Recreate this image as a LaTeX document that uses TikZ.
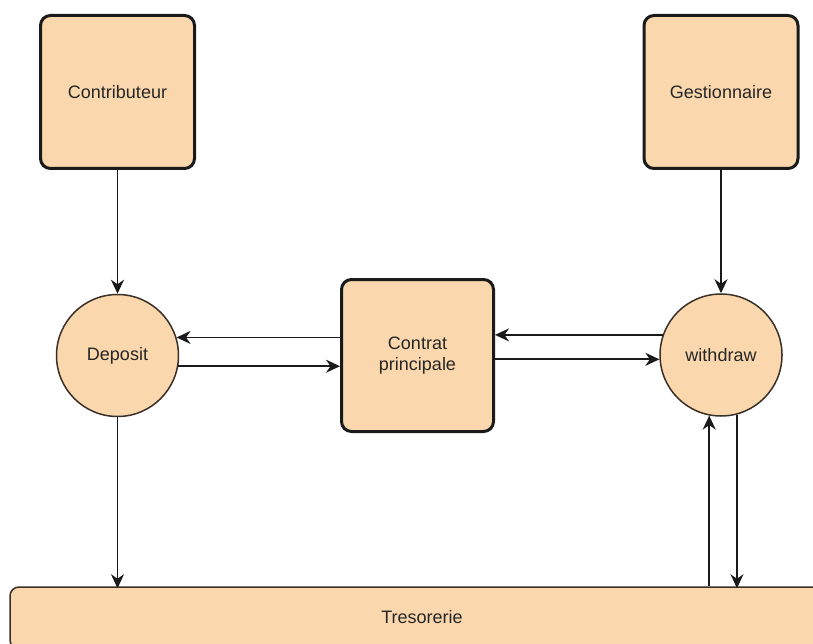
\documentclass[tikz,border=0pt]{standalone}
\usepackage{fontspec}
\setmainfont{Liberation Sans}
\usetikzlibrary{arrows.meta}
\definecolor{peach}{HTML}{FAD7AC}
\definecolor{inkline}{HTML}{1A1A1A}
\definecolor{rimline}{HTML}{3A3028}
\begin{document}
\begin{tikzpicture}[x=1pt,y=-1pt,
  every node/.style={font=\fontsize{18}{21}\selectfont, text=black!85},
  actor/.style={draw=inkline, line width=3pt, fill=peach, rounded corners=10pt,
    minimum width=154pt, minimum height=153pt, inner sep=0pt},
  process/.style={circle, draw=rimline, line width=1.5pt, fill=peach,
    minimum size=122pt, inner sep=0pt},
  store/.style={draw=rimline, line width=1.5pt, fill=peach, rounded corners=9pt,
    minimum width=824pt, minimum height=62pt, inner sep=0pt},
  flow/.style={draw=inkline, line width=1.8pt,
    -{Stealth[length=14pt, width=13pt, inset=4.5pt]}}]
  \useasboundingbox (0,0) rectangle (813,644);
  \clip (0,0) rectangle (813,644);

  % actors
  \node[actor] (contrib) at (117.5,92) {Contributeur};
  \node[actor] (gest) at (721,92) {Gestionnaire};
  \node[actor, align=center, minimum width=152pt, minimum height=152pt]
    (contrat) at (417.5,355.5) {Contrat\\principale};

  % processes
  \node[process] (deposit) at (117.5,355.5) {Deposit};
  \node[process] (withdraw) at (721,355) {withdraw};

  % treasury store, running past the page edges
  \node[store] (treso) at (422,618) {\raisebox{2pt}{Tresorerie}};

  % flows
  \draw[flow] (contrib.south) -- (deposit.north);
  \draw[flow] (gest.south) -- (withdraw.north);

  \draw[flow] (contrat.west |- deposit.17.5) -- (deposit.17.5);
  \draw[flow] (deposit.-10.8) -- (contrat.west |- deposit.-10.8);

  \draw[flow] (withdraw.161.9) -- (contrat.east |- withdraw.161.9);
  \draw[flow] (contrat.east |- withdraw.184.7) -- (withdraw.184.7);

  \coordinate (depin) at ([yshift=-2pt]deposit.south |- treso.north);
  \draw[flow] (deposit.south) -- (depin);

  \draw[flow] (withdraw.-101.3 |- treso.north) -- (withdraw.-101.3);
  \coordinate (wdout) at ([yshift=-2pt]withdraw.-75.8 |- treso.north);
  \draw[flow] (withdraw.-75.8) -- (wdout);
\end{tikzpicture}
\end{document}
